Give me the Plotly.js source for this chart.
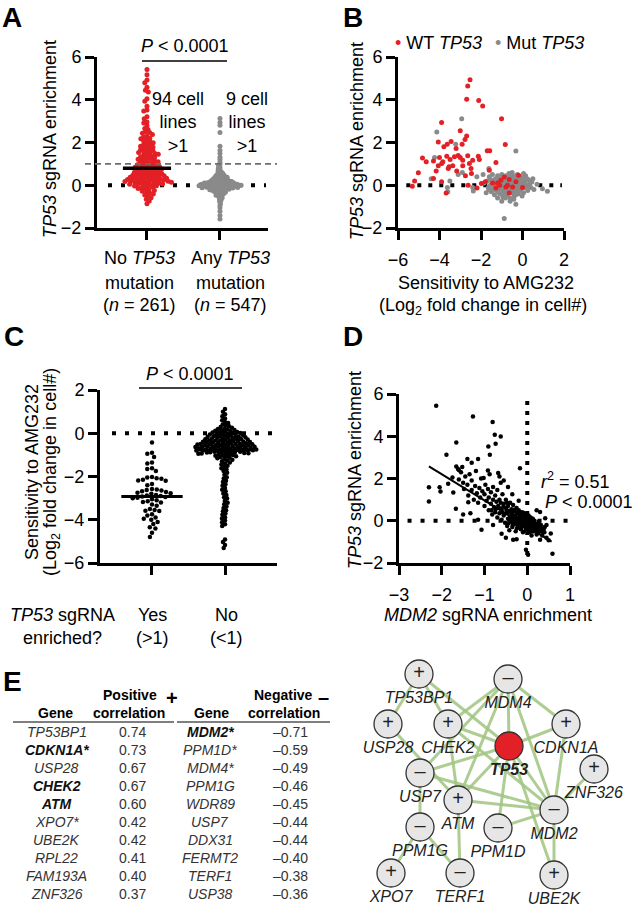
<!DOCTYPE html>
<html>
<head>
<meta charset="utf-8">
<script src="https://cdn.plot.ly/plotly-3.0.1.min.js"></script>
<style>html,body{margin:0;padding:0;background:#fff;}#chart{width:636px;height:910px;}</style>
</head>
<body>
<div id="chart"></div>
<script>
// ---------------- DATA ----------------
// Panel A: TP53 sgRNA enrichment by TP53 mutation status
const groupLabelsA = [['No <i>TP53</i>', 'mutation', '(<i>n</i> = 261)'], ['Any <i>TP53</i>', 'mutation', '(<i>n</i> = 547)']];
const noMutEnrich = [5.41,5.17,4.92,4.8,4.58,4.44,4.36,4.05,3.93,3.7,3.52,3.47,3.2,3.11,2.96,2.91,2.78,2.66,2.61,2.5,2.47,2.43,2.38,2.29,2.26,2.2,2.17,2.11,2.06,2.03,1.99,1.93,1.9,1.86,1.83,1.78,1.76,1.72,1.69,1.66,1.61,1.59,1.56,1.53,1.5,1.48,1.45,1.41,1.4,1.36,1.33,1.31,1.27,1.25,1.22,1.2,1.18,1.14,1.12,1.1,1.06,1.04,1.02,0.98,0.96,0.94,0.92,0.9,0.88,0.86,0.84,0.82,0.8,0.79,0.76,0.74,0.72,0.7,0.68,0.67,0.64,0.62,0.61,0.58,0.57,0.55,0.53,0.52,0.5,0.49,0.47,0.46,0.44,0.43,0.41,0.4,0.38,0.37,0.36,0.34,0.33,0.32,0.3,0.29,0.28,0.27,0.25,0.24,0.23,0.22,0.21,0.2,0.19,0.18,0.17,0.15,0.14,0.13,0.12,0.1,0.09,0.08,0.06,0.05,0.03,0.02,0.0,-0.02,-0.04,-0.07,-0.09,-0.12,-0.15,-0.17,-0.21,-0.24,-0.28,-0.33,-0.37,-0.41,-0.46,-0.52,-0.58,-0.66,-0.74,-0.86];
const mutEnrich = [3.12,2.93,2.81,2.47,1.82,1.63,1.48,1.31,1.2,1.08,0.97,0.9,0.83,0.77,0.71,0.67,0.63,0.59,0.56,0.53,0.5,0.48,0.46,0.44,0.42,0.4,0.38,0.37,0.35,0.34,0.32,0.31,0.3,0.28,0.27,0.26,0.25,0.24,0.23,0.22,0.21,0.2,0.19,0.18,0.18,0.17,0.16,0.15,0.15,0.14,0.13,0.13,0.12,0.11,0.11,0.1,0.1,0.09,0.08,0.08,0.07,0.07,0.06,0.06,0.05,0.05,0.04,0.04,0.03,0.03,0.02,0.02,0.01,0.01,0.0,0.0,0.0,-0.01,-0.01,-0.02,-0.02,-0.03,-0.03,-0.04,-0.04,-0.05,-0.05,-0.06,-0.06,-0.07,-0.07,-0.08,-0.09,-0.09,-0.1,-0.1,-0.11,-0.12,-0.12,-0.13,-0.14,-0.15,-0.15,-0.16,-0.17,-0.18,-0.19,-0.2,-0.21,-0.22,-0.23,-0.24,-0.25,-0.27,-0.28,-0.3,-0.31,-0.33,-0.35,-0.37,-0.39,-0.41,-0.44,-0.47,-0.5,-0.54,-0.58,-0.63,-0.69,-0.76,-0.85,-0.95,-1.05,-1.22,-1.41,-1.58];
const medianNoMut = 0.8;

// Panel B: sensitivity to AMG232 (x) vs TP53 sgRNA enrichment (y)
const wtPoints = [[-2.53,4.93],[-2.64,4.64],[-2.69,4.02],[-2.11,3.96],[-1.92,3.71],[-1.01,3.11],[-3.9,2.93],[-3.0,2.55],[-2.69,2.3],[-2.77,2.14],[-0.83,1.91],[-4.06,2.02],[-3.79,1.8],[-3.44,2.05],[-3.63,1.92],[-3.2,1.72],[-2.91,1.92],[-1.7,1.61],[-1.58,1.61],[-4.82,1.27],[-4.64,1.1],[-4.29,1.13],[-4.0,1.3],[-3.89,1.02],[-3.65,1.36],[-3.49,1.2],[-3.1,1.39],[-3.0,1.3],[-2.88,1.17],[-2.64,1.38],[-2.13,1.36],[-2.08,1.2],[-1.28,1.06],[-5.02,0.59],[-5.2,0.2],[-5.31,-0.05],[-4.06,0.91],[-3.84,1.1],[-3.54,0.86],[-3.36,0.91],[-3.28,1.33],[-2.88,0.91],[-2.56,1.02],[-2.48,0.78],[-2.4,1.17],[-4.29,0.31],[-4.16,0.67],[-3.9,0.16],[-3.68,-0.36],[-3.58,0.78],[-3.17,0.67],[-2.75,0.44],[-2.62,0.0],[-2.46,0.55],[-2.19,-0.13],[-1.98,0.08],[-1.79,0.16],[-1.6,0.7],[-1.1,0.0],[-1.04,0.23],[-0.88,0.39],[-0.64,0.27],[-0.72,0.0],[-0.8,-0.08],[-0.64,-0.36],[-0.32,0.16],[-0.19,0.47],[0.0,-0.11],[-0.48,-0.08],[-1.2,0.11],[-1.28,-0.13],[-1.44,0.11]];
const mutPoints = [[-2.93,3.11],[-4.13,2.49],[-0.32,1.6],[-4.24,1.3],[-3.22,1.92],[-2.9,0.6],[-3.5,0.2],[-3.62,-0.1],[-3.6,-0.3],[-2.37,-0.27],[-2.4,-0.1],[-1.62,0.78],[-1.9,0.5],[-2.2,0.4],[-0.88,-1.56],[-0.32,-0.89],[1.2,-0.28],[0.96,-0.16],[0.7,0.05],[-1.0,-0.75],[-4.4,0.3],[-3.1,0.5],[-1.7,0.2],[-1.65,-0.1],[-1.6,0.4],[-1.55,0.0],[-1.5,-0.3],[-1.5,0.25],[-1.45,0.5],[-1.4,-0.15],[-1.4,0.1],[-1.35,-0.45],[-1.3,0.3],[-1.3,0.0],[-1.25,-0.25],[-1.2,0.45],[-1.2,0.15],[-1.15,-0.1],[-1.1,-0.4],[-1.1,0.3],[-1.05,0.05],[-1.0,-0.2],[-1.0,0.5],[-0.95,0.2],[-0.95,-0.55],[-0.9,-0.05],[-0.9,0.35],[-0.85,-0.3],[-0.85,0.1],[-0.8,0.45],[-0.8,-0.15],[-0.75,0.2],[-0.75,-0.45],[-0.7,0.0],[-0.7,0.35],[-0.65,-0.25],[-0.65,0.55],[-0.6,0.1],[-0.6,-0.6],[-0.55,-0.1],[-0.55,0.3],[-0.5,-0.35],[-0.5,0.05],[-0.45,0.45],[-0.45,-0.2],[-0.4,0.2],[-0.4,-0.5],[-0.35,0.0],[-0.35,0.35],[-0.3,-0.3],[-0.3,0.1],[-0.25,0.5],[-0.25,-0.15],[-0.2,0.25],[-0.2,-0.4],[-0.15,0.05],[-0.1,0.4],[-0.1,-0.25],[-0.05,0.15],[0.0,-0.05],[0.0,0.35],[0.05,-0.35],[0.1,0.2],[0.1,-0.1],[0.15,0.45],[0.2,0.0],[0.25,-0.25],[0.3,0.25],[0.35,0.1],[0.4,-0.1],[0.5,0.3],[0.55,-0.2],[-1.75,-0.35],[-1.85,0.1],[-0.6,-0.75],[-1.2,-0.6],[0.05,0.55],[-0.5,0.6],[-1.05,-0.15],[-0.72,0.12],[-0.52,-0.2],[-0.28,0.18],[-0.9,-0.35],[-0.15,-0.1],[-1.35,0.2],[-1.62,-0.2],[-1.48,0.08],[-1.28,0.18],[-1.18,-0.3],[-1.02,0.28],[-0.88,0.02],[-0.78,0.3],[-0.68,-0.1],[-0.58,0.45],[-0.48,-0.05],[-0.38,0.1],[-0.28,-0.05],[-0.18,0.32],[-0.08,0.05],[0.02,0.2],[0.12,0.05],[0.22,0.3],[0.32,-0.05],[-0.82,-0.6],[-0.42,-0.65],[-1.32,-0.2],[-0.62,0.25],[-0.32,-0.45],[-0.02,-0.5],[0.45,0.15]];

// Panel C: sensitivity to AMG232 by TP53 sgRNA enrichment
const sensYes = [-0.43,-0.9,-0.95,-1.1,-1.35,-1.4,-1.62,-1.65,-1.75,-2.02,-2.05,-2.08,-2.1,-2.15,-2.18,-2.2,-2.35,-2.4,-2.58,-2.6,-2.62,-2.65,-2.68,-2.72,-2.75,-2.78,-2.8,-2.85,-2.88,-2.9,-2.92,-2.95,-2.98,-3.0,-3.05,-3.1,-3.15,-3.18,-3.2,-3.3,-3.35,-3.5,-3.55,-3.58,-3.6,-3.75,-3.8,-3.9,-3.95,-4.0,-4.1,-4.2,-4.35,-4.4,-4.6,-4.8];
const sensNo = [1.12,1.0,0.88,0.79,0.68,0.6,0.52,0.47,0.41,0.36,0.32,0.29,0.25,0.22,0.2,0.17,0.15,0.13,0.11,0.09,0.07,0.06,0.04,0.03,0.01,0.0,-0.02,-0.03,-0.05,-0.06,-0.08,-0.09,-0.1,-0.12,-0.13,-0.14,-0.16,-0.17,-0.18,-0.2,-0.21,-0.22,-0.23,-0.25,-0.26,-0.27,-0.28,-0.29,-0.31,-0.32,-0.33,-0.34,-0.35,-0.36,-0.37,-0.38,-0.39,-0.4,-0.41,-0.42,-0.43,-0.44,-0.45,-0.46,-0.47,-0.48,-0.49,-0.5,-0.5,-0.51,-0.52,-0.53,-0.54,-0.55,-0.55,-0.56,-0.57,-0.58,-0.59,-0.6,-0.6,-0.61,-0.62,-0.63,-0.64,-0.65,-0.65,-0.66,-0.67,-0.68,-0.69,-0.7,-0.7,-0.71,-0.72,-0.73,-0.74,-0.75,-0.75,-0.76,-0.77,-0.78,-0.79,-0.8,-0.8,-0.81,-0.82,-0.83,-0.84,-0.85,-0.86,-0.87,-0.88,-0.89,-0.9,-0.91,-0.92,-0.93,-0.94,-0.95,-0.97,-0.98,-1.0,-1.02,-1.04,-1.06,-1.08,-1.1,-1.13,-1.16,-1.19,-1.22,-1.26,-1.3,-1.35,-1.4,-1.45,-1.5,-1.56,-1.62,-1.68,-1.75,-1.83,-1.92,-2.03,-2.09,-2.2,-2.26,-2.36,-2.43,-2.53,-2.61,-2.68,-2.79,-2.85,-2.96,-3.02,-3.13,-3.21,-3.28,-3.39,-3.46,-3.56,-3.61,-3.71,-3.77,-3.88,-3.94,-4.04,-4.11,-4.21,-4.29,-4.91,-5.03,-5.17,-5.31];
const medianYes = -2.92;
const medianNo = -0.78;

// Panel D: MDM2 sgRNA enrichment (x) vs TP53 sgRNA enrichment (y)
const mdm2Tp53 = [[-2.13,5.44],[-1.27,4.94],[-0.81,4.67],[-0.76,4.07],[-0.62,3.99],[-1.66,3.71],[-0.74,3.64],[-0.91,3.52],[-1.89,3.12],[-0.875,3.12],[-1.4,2.92],[-1.15,2.92],[-1.3,2.75],[-0.17,2.49],[-1.66,2.57],[-1.6,2.4],[-2.3,1.58],[-2.05,1.58],[-2.03,1.39],[-2.3,0.91],[-1.73,1.34],[-1.67,0.57],[-1.38,0.88],[-1.33,0.36],[-1.15,0.05],[-1.07,-0.43],[-0.68,2.26],[-0.65,2.1],[-0.92,2.38],[-1.02,2.02],[-1.52,2.55],[-1.5,0.3],[-0.8,-0.2],[-0.6,-0.62],[-0.5,-0.8],[0.3,0.42],[0.42,0.12],[0.22,0.5],[0.45,-0.2],[0.5,-0.92],[0.55,-0.6],[-0.33,-0.9],[-0.25,-0.88],[-0.03,-1.37],[0.02,-1.61],[0.59,-1.56],[0.3,-0.9],[-0.45,1.6],[-0.55,1.9],[-0.35,1.25],[-0.2,0.95],[-1.85,1.75],[-1.75,2.05],
[-1.62,2.45],[-1.55,2.3],[-1.6,1.95],[-1.5,1.8],[-1.45,2.1],[-1.48,1.5],[-1.4,1.7],[-1.35,2.2],[-1.38,1.2],[-1.3,1.9],[-1.3,1.45],[-1.25,1.0],[-1.22,1.65],[-1.2,2.35],[-1.18,1.3],[-1.15,0.85],[-1.12,1.55],[-1.1,1.1],[-1.08,2.0],[-1.05,1.4],
[-1.0,0.7],[-1.0,1.25],[-0.98,1.7],[-0.95,0.95],[-0.92,1.5],[-0.9,0.5],[-0.9,1.1],[-0.88,2.2],[-0.85,0.8],[-0.85,1.35],[-0.82,0.3],[-0.8,1.0],[-0.8,1.6],[-0.78,0.65],[-0.75,1.2],[-0.75,0.4],[-0.72,0.9],[-0.7,1.45],[-0.7,0.15],[-0.68,0.7],[-0.65,1.0],[-0.65,0.35],[-0.62,1.8],[-0.6,0.55],[-0.6,0.05],[-0.58,1.25],[-0.55,0.8],[-0.55,0.25],[-0.52,-0.1],[-0.5,0.6],
[-0.5,1.0],[-0.48,0.35],[-0.47,-0.25],[-0.45,0.7],[-0.45,0.1],[-0.43,0.45],[-0.42,-0.45],[-0.4,0.85],[-0.4,0.2],[-0.38,-0.05],[-0.37,0.55],[-0.35,0.3],[-0.35,-0.3],[-0.33,0.75],[-0.32,0.1],[-0.3,0.45],[-0.3,-0.15],[-0.28,0.25],[-0.27,-0.5],[-0.25,0.6],[-0.25,0.0],[-0.23,0.35],[-0.22,-0.25],[-0.2,0.15],[-0.2,0.5],[-0.18,-0.1],[-0.17,0.3],[-0.15,-0.4],[-0.15,0.05],[-0.13,0.4],[-0.12,-0.2],[-0.1,0.2],[-0.1,-0.55],[-0.08,0.0],[-0.07,0.3],[-0.05,-0.3],[-0.05,0.1],[-0.03,-0.1],[-0.02,0.2],[0.0,-0.4],
[0.0,0.05],[0.02,-0.2],[0.03,0.25],[0.05,-0.55],[0.05,0.0],[0.07,-0.3],[0.08,0.15],[0.1,-0.1],[0.1,-0.7],[0.12,-0.35],[0.13,0.1],[0.15,-0.2],[0.15,-0.5],[0.17,0.0],[0.2,-0.4],[0.2,-0.15],[0.22,-0.65],[0.25,-0.3],[0.27,-0.05],[0.3,-0.5],[0.32,-0.2],[0.35,-0.7],[0.38,-0.4],[0.4,-0.55],[0.45,-0.8],
[-0.42,0.05],[-0.36,0.15],[-0.29,-0.02],[-0.26,0.12],[-0.19,0.0],[-0.16,0.18],[-0.11,-0.08],[-0.06,0.02],[0.01,-0.12],[0.06,-0.18],[0.11,-0.25],[0.18,-0.3],[-0.24,-0.35],[-0.14,-0.3],[-0.04,-0.45],[0.07,-0.45],[0.24,-0.55],[0.33,-0.35],[-0.58,0.4],[-0.48,0.5],
[-0.38,0.38],[-0.31,0.52],[-0.21,0.42],[-0.09,0.38],[-0.02,0.32],[0.04,0.12],[0.09,-0.02],[0.14,-0.08],[0.19,-0.22],[0.26,-0.18],[0.29,-0.38],[0.36,-0.55],[0.41,-0.3],[-0.44,-0.12],[-0.34,-0.2],[-0.23,-0.12],[-0.13,-0.02],[0.0,-0.25],[0.12,-0.5],[0.23,-0.45],[-0.66,0.6],[-0.56,0.68],[-0.47,0.85],[-0.74,0.55],[-0.84,0.5],[-0.62,0.85]];
const regSlope = -1.24, regIntercept = -0.28, regXRange = [-2.3, 0.57];

// Panel E table
const posGenes = ['TP53BP1','CDKN1A*','USP28','CHEK2','ATM','XPO7*','UBE2K','RPL22','FAM193A','ZNF326'];
const posCorr = ['0.74','0.73','0.67','0.67','0.60','0.42','0.42','0.41','0.40','0.37'];
const posBold = [false,true,false,true,true,false,false,false,false,false];
const negGenes = ['MDM2*','PPM1D*','MDM4*','PPM1G','WDR89','USP7','DDX31','FERMT2','TERF1','USP38'];
const negCorr = ['–0.71','–0.59','–0.49','–0.46','–0.45','–0.44','–0.44','–0.40','–0.38','–0.36'];
const negBold = [true,false,false,false,false,false,false,false,false,false];

// Panel E network
const netGenes = ['TP53BP1','MDM4','USP28','CHEK2','CDKN1A','TP53','ZNF326','USP7','ATM','MDM2','PPM1G','PPM1D','XPO7','TERF1','UBE2K'];
const netSigns = ['+','–','+','+','+','','+','–','+','–','–','–','+','–','+'];
const netEdges = [['TP53BP1','USP28'],['TP53BP1','CHEK2'],['TP53BP1','TP53'],['MDM4','CHEK2'],['MDM4','USP7'],['MDM4','ATM'],['MDM4','TP53'],['MDM4','CDKN1A'],['MDM4','MDM2'],['USP28','ATM'],['CHEK2','ATM'],['CHEK2','TP53'],['CHEK2','MDM2'],['USP7','TP53'],['USP7','PPM1G'],['USP7','MDM2'],['ATM','TP53'],['ATM','MDM2'],['ATM','TERF1'],['TP53','CDKN1A'],['TP53','MDM2'],['TP53','PPM1D'],['TP53','UBE2K'],['CDKN1A','MDM2'],['ZNF326','MDM2'],['PPM1D','MDM2'],['MDM2','UBE2K'],['PPM1G','XPO7'],['PPM1G','TERF1']];

// ---------------- LAYOUT HELPERS (positions / styles) ----------------
const W = 636, H = 910;
const FONT = 'Liberation Sans, Arial, Helvetica, sans-serif';
const RED = 'rgb(226,32,38)', GRAY = 'rgb(138,138,138)';
const netPos = {TP53BP1:[419,674], MDM4:[508,679], USP28:[388,724], CHEK2:[448,724], CDKN1A:[566,724], TP53:[509,746], ZNF326:[594,769], USP7:[420,773], ATM:[458,800], MDM2:[554,810], PPM1G:[420,827], PPM1D:[498,828], XPO7:[391,873], TERF1:[460,873], UBE2K:[554,875]};
const dX = (a, b) => [a / W, b / W];
const dY = (top, bot) => [1 - bot / H, 1 - top / H];
function T(text, x, y, size, extra) {
  return Object.assign({text: text, x: x / W, y: 1 - y / H, xref: 'paper', yref: 'paper', showarrow: false,
    xanchor: 'center', yanchor: 'middle', font: {family: FONT, size: size || 18, color: 'black'}}, extra || {});
}
function pLine(x0, y0, x1, y1, w, color, dash) {
  return {type: 'line', xref: 'paper', yref: 'paper', x0: x0 / W, x1: x1 / W, y0: 1 - y0 / H, y1: 1 - y1 / H,
    line: {color: color || 'black', width: w || 1.5, dash: dash || 'solid'}};
}
const axBase = {type: 'linear', showline: true, linewidth: 3, linecolor: 'black', ticks: 'outside', ticklen: 9, tickwidth: 3,
  tickcolor: 'black', showgrid: false, zeroline: false, fixedrange: true, tickangle: 0, tickfont: {family: FONT, size: 18, color: 'black'}};
const ax = o => Object.assign({}, axBase, o);

// Beeswarm layout: horizontal offsets (in x-axis units) so that points of a category do not pile up.
// pyu / pxu = pixels per axis unit on the value / category axis, d = minimum centre spacing in px.
function beeswarm(vals, pyu, pxu, d) {
  const order = vals.map((v, i) => i).sort((a, b) => vals[b] - vals[a]);
  const placed = [], out = new Array(vals.length);
  order.forEach(i => {
    const y = vals[i] * pyu;
    const iv = [];
    placed.forEach(p => { const dy = Math.abs(p.y - y); if (dy < d) { const h = Math.sqrt(d * d - dy * dy); iv.push([p.x - h, p.x + h]); } });
    const cands = [0];
    iv.forEach(r => cands.push(r[0], r[1]));
    cands.sort((a, b) => Math.abs(a) - Math.abs(b));
    let best = 0;
    for (const c of cands) { if (iv.every(r => c <= r[0] + 1e-7 || c >= r[1] - 1e-7)) { best = c; break; } }
    placed.push({x: best, y: y});
    out[i] = best / pxu;
  });
  return out;
}

// ---------------- TRACES ----------------
const traces = [];
function swarm(vals, pos, xa, ya, color, pyu, pxu, d, size) {
  const off = beeswarm(vals, pyu, pxu, d);
  return {type: 'scatter', mode: 'markers', x: off.map(o => pos + o), y: vals, xaxis: xa, yaxis: ya,
    marker: {color: color, size: size, line: {width: 0}}, hoverinfo: 'y', showlegend: false};
}
const pyA = 171 / 8, pxA = 73, pyC = 173 / 8, pxC = 73;
// A
traces.push(swarm(noMutEnrich, 0, 'x', 'y', RED, pyA, pxA, 3.4, 5));
traces.push(swarm(mutEnrich, 1, 'x', 'y', GRAY, pyA, pxA, 2.1, 5));
traces.push({type: 'scatter', mode: 'lines', x: [-0.33, 0.33], y: [medianNoMut, medianNoMut], xaxis: 'x', yaxis: 'y',
  line: {color: 'black', width: 3.5}, hoverinfo: 'skip', showlegend: false});
// B
traces.push({type: 'scatter', mode: 'markers', x: mutPoints.map(p => p[0]), y: mutPoints.map(p => p[1]), xaxis: 'x2', yaxis: 'y2',
  marker: {color: GRAY, size: 5}, showlegend: false});
traces.push({type: 'scatter', mode: 'markers', x: wtPoints.map(p => p[0]), y: wtPoints.map(p => p[1]), xaxis: 'x2', yaxis: 'y2',
  marker: {color: RED, size: 5}, showlegend: false});
// C
traces.push(swarm(sensYes, 0, 'x3', 'y3', 'black', pyC, pxC, 4.8, 4.5));
traces.push(swarm(sensNo, 1, 'x3', 'y3', 'black', pyC, pxC, 3.3, 4.5));
traces.push({type: 'scatter', mode: 'lines', x: [-0.42, 0.42], y: [medianYes, medianYes], xaxis: 'x3', yaxis: 'y3',
  line: {color: 'black', width: 3}, hoverinfo: 'skip', showlegend: false});
traces.push({type: 'scatter', mode: 'lines', x: [0.6, 1.4], y: [medianNo, medianNo], xaxis: 'x3', yaxis: 'y3',
  line: {color: 'black', width: 3}, hoverinfo: 'skip', showlegend: false});
// D
traces.push({type: 'scatter', mode: 'markers', x: mdm2Tp53.map(p => p[0]), y: mdm2Tp53.map(p => p[1]), xaxis: 'x4', yaxis: 'y4',
  marker: {color: 'black', size: 4.5}, showlegend: false});
traces.push({type: 'scatter', mode: 'lines', x: regXRange, y: regXRange.map(v => regIntercept + regSlope * v), xaxis: 'x4', yaxis: 'y4',
  line: {color: 'black', width: 2}, hoverinfo: 'skip', showlegend: false});
// E network
const ex = [], ey = [];
netEdges.forEach(e => { const a = netPos[e[0]], b = netPos[e[1]]; ex.push(a[0], b[0], null); ey.push(a[1], b[1], null); });
traces.push({type: 'scatter', mode: 'lines', x: ex, y: ey, xaxis: 'x5', yaxis: 'y5', line: {color: 'rgba(160,196,128,0.85)', width: 3},
  hoverinfo: 'skip', showlegend: false});
traces.push({type: 'scatter', mode: 'markers', x: netGenes.map(g => netPos[g][0]), y: netGenes.map(g => netPos[g][1]),
  xaxis: 'x5', yaxis: 'y5', marker: {size: 28, color: netGenes.map(g => g === 'TP53' ? RED : '#e6e6e6'), line: {color: '#333', width: 1.3}},
  showlegend: false, hoverinfo: 'text', hovertext: netGenes});
const signed = netGenes.filter((g, i) => netSigns[i] !== '');
traces.push({type: 'scatter', mode: 'text', x: signed.map(g => netPos[g][0]), y: signed.map(g => netPos[g][1]),
  xaxis: 'x5', yaxis: 'y5', text: signed.map(g => netSigns[netGenes.indexOf(g)]), textposition: 'middle center',
  textfont: {family: FONT, size: 20, color: '#222'}, hoverinfo: 'skip', showlegend: false});
traces.push({type: 'scatter', mode: 'text', x: netGenes.map(g => netPos[g][0]), y: netGenes.map(g => netPos[g][1] + 25),
  xaxis: 'x5', yaxis: 'y5', text: netGenes.map(g => g === 'TP53' ? '<b><i>TP53</i></b>' : '<i>' + g + '</i>'),
  textposition: 'middle center', textfont: {family: FONT, size: 16, color: '#222'}, hoverinfo: 'skip', showlegend: false});

// ---------------- ANNOTATIONS ----------------
const ann = [];
const bold = s => '<b>' + s + '</b>';
ann.push(T(bold('A'), 12, 17, 28), T(bold('B'), 353, 17, 28), T(bold('C'), 14, 336, 28), T(bold('D'), 353, 336, 28), T(bold('E'), 12, 681, 28));
// A
ann.push(T('<i>TP53</i> sgRNA enrichment', 50, 139, 18, {textangle: -90}));
ann.push(T('<i>P</i> < 0.0001', 185, 46, 18));
ann.push(T('94 cell<br>lines<br>&gt;1', 178, 123, 18));
ann.push(T('9 cell<br>lines<br>&gt;1', 247, 123, 18));
const catLabelX = [139, 231], catLabelY = [258, 283, 305];
groupLabelsA.forEach((lines, c) => lines.forEach((s, k) => ann.push(T(s, catLabelX[c], catLabelY[k], 18))));
// B
ann.push(T('<i>TP53</i> sgRNA enrichment', 357, 141, 18, {textangle: -90}));
ann.push(T('<span style="color:' + RED + '">•</span> WT <i>TP53</i>', 393, 43, 18, {xanchor: 'left'}));
ann.push(T('<span style="color:' + GRAY + '">•</span> Mut <i>TP53</i>', 493, 43, 18, {xanchor: 'left'}));
ann.push(T('Sensitivity to AMG232', 486, 283, 18));
ann.push(T('(Log<sub>2</sub> fold change in cell#)', 483, 306, 18));
// C
ann.push(T('Sensitivity to AMG232', 32, 472, 18, {textangle: -90}));
ann.push(T('(Log<sub>2</sub> fold change in cell#)', 51, 472, 18, {textangle: -90}));
ann.push(T('<i>P</i> < 0.0001', 190, 374, 18));
ann.push(T('<i>TP53</i> sgRNA', 62, 615, 18), T('enriched?', 62, 638, 18));
ann.push(T('Yes', 152, 615, 18), T('(&gt;1)', 152, 638, 18));
ann.push(T('No', 227, 615, 18), T('(&lt;1)', 227, 638, 18));
// D
ann.push(T('<i>TP53</i> sgRNA enrichment', 355, 470, 18, {textangle: -90}));
ann.push(T('<i>MDM2</i> sgRNA enrichment', 488, 615, 18));
ann.push(T('<i>r</i><sup>2</sup> = 0.51', 539, 480, 18, {xanchor: 'left'}));
ann.push(T('<i>P</i> < 0.0001', 543, 502, 18, {xanchor: 'left'}));
// E table
ann.push(T(bold('Positive'), 130, 695, 14), T(bold('+'), 172, 698, 20));
ann.push(T(bold('Negative'), 283, 695, 14), T(bold('–'), 323, 697, 20));
ann.push(T(bold('Gene'), 56, 713, 14), T(bold('correlation'), 129, 713, 14));
ann.push(T(bold('Gene'), 211, 713, 14), T(bold('correlation'), 284, 713, 14));
const rowY0 = 731.5, rowDY = 18.1;
posGenes.forEach((g, i) => {
  const y = rowY0 + i * rowDY;
  ann.push(T(posBold[i] ? '<b><i>' + g + '</i></b>' : '<i>' + g + '</i>', 57, y, 14, {font: {family: FONT, size: 14, color: posBold[i] ? '#111' : '#333'}}));
  ann.push(T(posCorr[i], 132, y, 14, {font: {family: FONT, size: 14, color: '#333'}}));
});
negGenes.forEach((g, i) => {
  const y = rowY0 + i * rowDY;
  ann.push(T(negBold[i] ? '<b><i>' + g + '</i></b>' : '<i>' + g + '</i>', 210, y, 14, {font: {family: FONT, size: 14, color: negBold[i] ? '#111' : '#333'}}));
  ann.push(T(negCorr[i], 290, y, 14, {font: {family: FONT, size: 14, color: '#333'}}));
});

// ---------------- SHAPES ----------------
const shapes = [
  // A
  {type: 'line', xref: 'paper', yref: 'y', x0: 108 / W, x1: 266 / W, y0: 0, y1: 0, layer: 'below', line: {color: 'black', width: 4, dash: '4px,9px'}},
  {type: 'line', xref: 'paper', yref: 'y', x0: 85 / W, x1: 277 / W, y0: 1, y1: 1, line: {color: '#6e6e6e', width: 1.8, dash: '6px,4px'}},
  pLine(142, 61, 227, 61, 1.5),
  // B
  {type: 'line', xref: 'x2', yref: 'y2', x0: -5.6, x1: 1.9, y0: 0, y1: 0, layer: 'below', line: {color: 'black', width: 4, dash: '4px,7px'}},
  // C
  {type: 'line', xref: 'paper', yref: 'y3', x0: 112 / W, x1: 273 / W, y0: 0, y1: 0, layer: 'below', line: {color: 'black', width: 4, dash: '4px,9px'}},
  pLine(139, 388, 242, 388, 1.5),
  // D
  {type: 'line', xref: 'x4', yref: 'y4', x0: -2.8, x1: 0.95, y0: 0, y1: 0, layer: 'below', line: {color: 'black', width: 4, dash: '4px,9px'}},
  {type: 'line', xref: 'x4', yref: 'y4', x0: 0, x1: 0, y0: -1.62, y1: 5.8, layer: 'below', line: {color: 'black', width: 4, dash: '4px,6px'}},
  // E table rules
  pLine(13, 722, 174, 722, 1.5, '#555'),
  pLine(177, 722, 330, 722, 1.5, '#555')
];

// ---------------- LAYOUT ----------------
const layout = {
  width: W, height: H, margin: {l: 0, r: 0, t: 0, b: 0}, paper_bgcolor: 'white', plot_bgcolor: 'rgba(0,0,0,0)',
  showlegend: false, font: {family: FONT, color: 'black'},
  xaxis: ax({domain: dX(97, 268), range: [-0.685, 1.658], anchor: 'y', tickvals: [0, 1], showticklabels: false}),
  yaxis: ax({domain: dY(57, 228), range: [-2, 6], anchor: 'x', tickvals: [-2, 0, 2, 4, 6]}),
  xaxis2: ax({domain: dX(398, 564), range: [-6, 2], anchor: 'y2', tickvals: [-6, -4, -2, 0, 2], ticklabelstandoff: 4}),
  yaxis2: ax({domain: dY(57, 228), range: [-2, 6], anchor: 'x2', tickvals: [-2, 0, 2, 4, 6]}),
  xaxis3: ax({domain: dX(100, 277), range: [-0.712, 1.712], anchor: 'y3', tickvals: [0, 1], showticklabels: false}),
  yaxis3: ax({domain: dY(390, 563), range: [-6, 2], anchor: 'x3', tickvals: [-6, -4, -2, 0, 2]}),
  xaxis4: ax({domain: dX(399, 570), range: [-3, 1], anchor: 'y4', tickvals: [-3, -2, -1, 0, 1], ticklabelstandoff: 4}),
  yaxis4: ax({domain: dY(394, 563), range: [-2, 6], anchor: 'x4', tickvals: [-2, 0, 2, 4, 6]}),
  xaxis5: {domain: [0, 1], range: [0, W], visible: false, fixedrange: true, anchor: 'y5'},
  yaxis5: {domain: [0, 1], range: [H, 0], visible: false, fixedrange: true, anchor: 'x5'},
  annotations: ann, shapes: shapes
};
Plotly.newPlot('chart', traces, layout, {displayModeBar: false, staticPlot: true});
</script>
</body>
</html>
